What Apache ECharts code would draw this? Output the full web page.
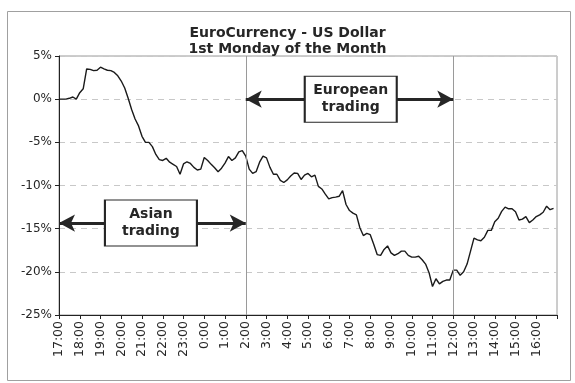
<!DOCTYPE html>
<html>
<head>
<meta charset="utf-8">
<script src="https://cdn.jsdelivr.net/npm/echarts@6/dist/echarts.min.js"></script>
<style>html,body{margin:0;padding:0;background:#fff}#c{width:575px;height:383px}</style>
</head>
<body>
<div id="c"></div>
<script>
// Tick labels (one per hour, starting 17:00)
const hourLabels = ['17:00','18:00','19:00','20:00','21:00','22:00','23:00','0:00','1:00','2:00','3:00','4:00',
  '5:00','6:00','7:00','8:00','9:00','10:00','11:00','12:00','13:00','14:00','15:00','16:00'];
const yTickLabelsPct = [5, 0, -5, -10, -15, -20, -25];
// Samples every 10 minutes from 17:00 (percent change)
const pointsPerHour = 6;
const values = [
  0, 0, 0, 0.1, 0.25, 0.0, 0.75, 1.2, 3.5, 3.45, 3.3, 3.35,
  3.7, 3.5, 3.35, 3.3, 3.1, 2.7, 2.1, 1.3, 0.1, -1.2, -2.3, -3.1,
  -4.3, -5.0, -5.0, -5.5, -6.4, -7.0, -7.1, -6.85, -7.3, -7.55, -7.8, -8.7,
  -7.5, -7.25, -7.45, -7.9, -8.2, -8.1, -6.75, -7.1, -7.55, -7.95, -8.4, -8.0,
  -7.4, -6.65, -7.1, -6.8, -6.1, -5.95, -6.6, -8.1, -8.6, -8.4, -7.3, -6.6,
  -6.8, -7.9, -8.7, -8.7, -9.4, -9.65, -9.35, -8.9, -8.55, -8.6, -9.3, -8.8,
  -8.6, -9.0, -8.8, -10.1, -10.4, -11.0, -11.55, -11.4, -11.35, -11.25, -10.6, -12.2,
  -12.9, -13.2, -13.4, -14.9, -15.8, -15.55, -15.7, -16.8, -18.0, -18.1, -17.4, -17.0,
  -17.8, -18.1, -17.9, -17.6, -17.6, -18.1, -18.3, -18.3, -18.2, -18.6, -19.1, -20.1,
  -21.7, -20.8, -21.4, -21.1, -20.95, -20.95, -19.8, -19.8, -20.4, -20.0, -19.1, -17.6,
  -16.1, -16.3, -16.4, -16.0, -15.2, -15.2, -14.2, -13.8, -13.0, -12.5, -12.7, -12.7,
  -13.05, -14.0, -13.9, -13.6, -14.3, -14.0, -13.6, -13.4, -13.1, -12.4, -12.8, -12.65
];
// Trading sessions (hours after 17:00)
const sessionNames = ['Asian\ntrading', 'European\ntrading'];
const sessionStart = [0, 9];
const sessionEnd = [9, 19];
const sessionLevel = [-14.35, 0];
const sessionBoxCenter = [4.43, 14.06];
const sessionDividers = [9, 19];

const chart = echarts.init(document.getElementById('c'), null, {renderer: 'canvas'});
const font = 'DejaVu Sans, Verdana, sans-serif';
const ink = '#262626';

const markLineData = [];
sessionDividers.forEach(h => markLineData.push({
  xAxis: h,
  lineStyle: {color: '#9a9a9a', width: 1, type: 'solid'}
}));
sessionStart.forEach((s, k) => markLineData.push([
  {coord: [s, sessionLevel[k]], symbol: 'arrow', symbolSize: [13, 16],
   lineStyle: {color: ink, width: 3, type: 'solid'}},
  {coord: [sessionEnd[k], sessionLevel[k]], symbol: 'arrow', symbolSize: [13, 16]}
]));

const markPointData = sessionNames.map((n, k) => ({
  coord: [sessionBoxCenter[k], sessionLevel[k]],
  symbol: 'rect', symbolSize: [92, 46],
  itemStyle: {color: '#fff', borderColor: ink, borderWidth: 1.5},
  label: {show: true, position: 'inside', formatter: n, color: ink,
    fontFamily: font, fontWeight: 'bold', fontSize: 14, lineHeight: 17}
}));

chart.setOption({
  animation: false,
  backgroundColor: '#fff',
  title: {
    text: 'EuroCurrency - US Dollar\n1st Monday of the Month',
    left: 'center', top: 20,
    textStyle: {fontFamily: font, fontWeight: 'bold', fontSize: 14, lineHeight: 16, color: ink}
  },
  graphic: [{
    type: 'rect', left: 5, top: 9, shape: {width: 563, height: 369},
    style: {fill: 'none', stroke: '#a0a0a0', lineWidth: 1}, silent: true, z: -10
  }],
  grid: {left: 59, right: 18, top: 56, bottom: 68, show: true, borderColor: '#9a9a9a', borderWidth: 1, backgroundColor: 'transparent'},
  xAxis: {
    type: 'value', min: 0, max: 24, interval: 1,
    axisLine: {show: true, onZero: false, lineStyle: {color: '#222', width: 1}},
    axisTick: {show: true, length: 4, lineStyle: {color: '#222'}},
    splitLine: {show: false},
    axisLabel: {
      rotate: 90, margin: 6, color: ink, fontFamily: font, fontSize: 12.5,
      formatter: v => hourLabels[Math.round(v)] !== undefined && Math.abs(v - Math.round(v)) < 1e-6 ? hourLabels[Math.round(v)] : ''
    }
  },
  yAxis: {
    type: 'value', min: -25, max: 5, interval: 5,
    axisLine: {show: true, lineStyle: {color: '#222', width: 1}},
    axisTick: {show: true, length: 4, lineStyle: {color: '#222'}},
    splitLine: {show: true, lineStyle: {color: '#c8c8c8', type: [6, 5], width: 1}},
    axisLabel: {
      margin: 7, color: ink, fontFamily: font, fontSize: 12,
      formatter: v => yTickLabelsPct.indexOf(v) >= 0 ? v + '%' : ''
    }
  },
  series: [{
    type: 'line',
    data: values.map((v, i) => [i / pointsPerHour, v]),
    symbol: 'none',
    lineStyle: {color: '#1a1a1a', width: 1.4},
    z: 3,
    markLine: {silent: true, z: 4, symbol: ['none', 'none'], label: {show: false}, animation: false, data: markLineData},
    markPoint: {silent: true, z: 6, animation: false, data: markPointData}
  }]
});
</script>
</body>
</html>
